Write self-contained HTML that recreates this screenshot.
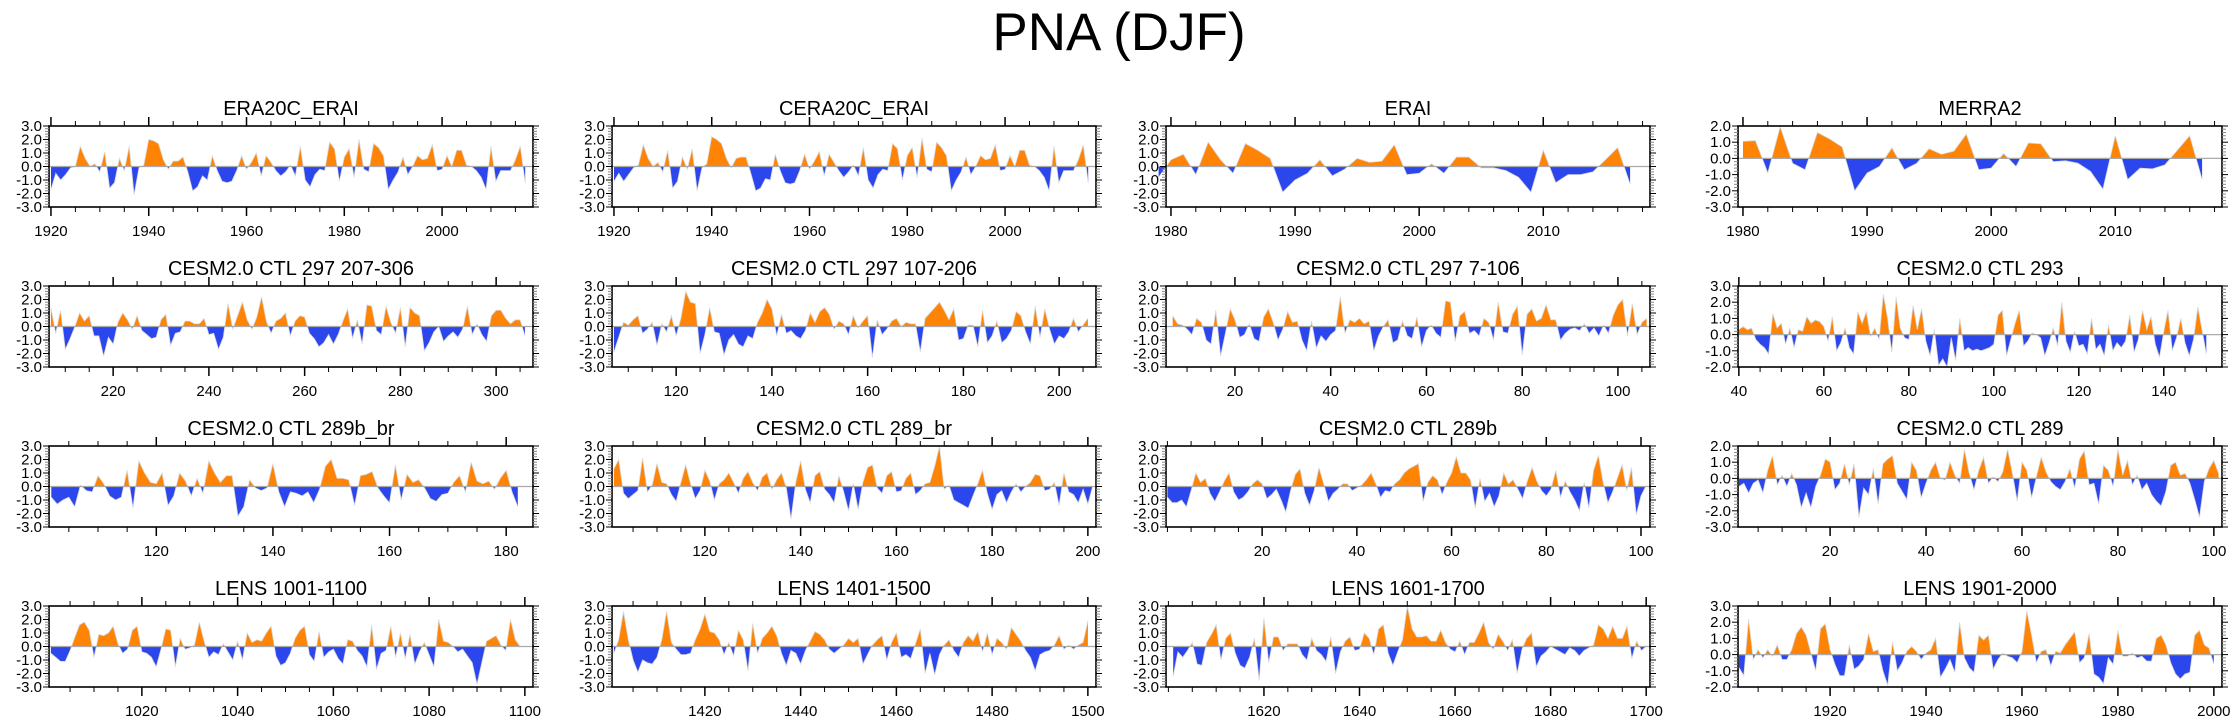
<!DOCTYPE html>
<html><head><meta charset="utf-8">
<style>
html,body{margin:0;padding:0;background:#fff;}
svg{display:block;font-family:"Liberation Sans",sans-serif;}
</style></head>
<body>
<svg id="chart" width="2238" height="718" viewBox="0 0 2238 718" xmlns="http://www.w3.org/2000/svg">
<rect x="0" y="0" width="2238" height="718" fill="#fff"/>
<text x="1119" y="50" text-anchor="middle" font-size="53" fill="#000">PNA (DJF)</text>
</svg>
<script>
const titles = ["ERA20C_ERAI","CERA20C_ERAI","ERAI","MERRA2","CESM2.0 CTL 297 207-306","CESM2.0 CTL 297 107-206","CESM2.0 CTL 297 7-106","CESM2.0 CTL 293","CESM2.0 CTL 289b_br","CESM2.0 CTL 289_br","CESM2.0 CTL 289b","CESM2.0 CTL 289","LENS 1001-1100","LENS 1401-1500","LENS 1601-1700","LENS 1901-2000"];
const firstYears = [1920,1920,1979,1980,207,107,7,40,102,101,0,1,1001,1401,1601,1901];
const xMins = [1919.6,1919.6,1979.6,1979.6,206.6,106.6,5.6,39.8,101.6,100.6,-0.3,0.8,1000.6,1400.6,1599.5,1900.8];
const xMaxs = [2018.6,2018.6,2018.6,2018.6,307.7,207.7,106.7,153.7,184.6,201.7,101.9,101.7,1101.7,1501.7,1700.8,2001.7];
const yMins = [-3,-3,-3,-3,-3,-3,-3,-2,-3,-3,-3,-3,-3,-3,-3,-2];
const yMaxs = [3,3,3,2,3,3,3,3,3,3,3,2,3,3,3,3];
const majorTicks = [[1920,1940,1960,1980,2000],[1920,1940,1960,1980,2000],[1980,1990,2000,2010],[1980,1990,2000,2010],[220,240,260,280,300],[120,140,160,180,200],[20,40,60,80,100],[40,60,80,100,120,140],[120,140,160,180],[120,140,160,180,200],[20,40,60,80,100],[20,40,60,80,100],[1020,1040,1060,1080,1100],[1420,1440,1460,1480,1500],[1620,1640,1660,1680,1700],[1920,1940,1960,1980,2000]];
const minorSteps = [5,5,2,2,5,5,5,5,5,5,5,5,5,5,5,5];

const sERA20C = [-1.7,-0.5,-1.0,-0.6,-0.1,0.0,1.5,0.6,0.0,0.2,-0.4,1.1,-1.6,-1.2,0.6,-0.3,1.5,-2.1,-0.1,0.1,2.0,1.9,1.7,0.5,-0.2,0.4,0.4,0.7,-0.4,-1.8,-1.5,-0.7,-1.0,0.8,-0.3,-1.1,-1.2,-1.1,-0.3,0.8,-0.2,0.3,1.0,-0.7,0.8,0.3,-0.3,-0.7,-0.4,0.1,-0.7,1.5,-1.0,-1.5,-0.6,-0.2,-0.3,1.8,1.3,-1.1,0.7,1.3,-0.8,2.0,-0.2,-0.4,1.7,1.4,0.8,-1.7,-1.0,-0.4,0.7,-0.6,0.0,0.8,0.5,0.6,1.6,-0.3,-0.2,0.8,0.0,1.2,1.2,0.1,0.0,-0.3,-0.8,-1.7,1.5,-1.1,-0.3,-0.3,-0.3,0.5,1.5,-1.2];
const sCERA20C = [-1.1,-0.5,-1.1,-0.6,-0.1,0.1,1.6,0.6,0.0,0.3,-0.4,1.2,-1.6,-1.1,0.7,-0.2,1.3,-1.8,-0.1,0.2,2.2,2.0,1.7,0.6,-0.1,0.6,0.7,0.7,-0.5,-1.8,-1.6,-0.9,-1.0,0.9,-0.3,-1.2,-1.3,-1.2,-0.3,0.9,-0.2,0.4,1.1,-0.7,0.9,0.3,-0.3,-0.8,-0.4,0.1,-0.7,1.4,-1.0,-1.6,-0.6,-0.2,-0.3,1.7,1.3,-1.0,0.8,1.4,-0.8,2.1,-0.2,-0.4,1.8,1.4,0.8,-1.8,-1.0,-0.4,0.7,-0.6,0.0,0.8,0.5,0.6,1.6,-0.3,-0.2,0.8,0.0,1.2,1.2,0.1,0.0,-0.3,-0.8,-1.8,1.5,-1.2,-0.3,-0.3,-0.3,0.5,1.6,-1.2];
const sERAI = [-0.8,0.5,0.9,-0.6,1.8,0.5,-0.5,1.7,1.2,0.6,-1.9,-1.0,-0.5,0.5,-0.7,-0.2,0.6,0.3,0.4,1.6,-0.6,-0.5,0.2,-0.5,0.7,0.7,-0.1,-0.1,-0.3,-0.8,-1.9,1.2,-1.2,-0.6,-0.6,-0.4,0.5,1.4,-1.3];
const sMERRA2 = [1.05,1.1,-0.9,1.95,-0.3,-0.7,1.6,1.2,0.7,-2.0,-0.9,-0.5,0.65,-0.7,-0.3,0.6,0.25,0.45,1.5,-0.7,-0.6,0.3,-0.5,0.95,0.9,-0.2,-0.15,-0.3,-0.8,-1.9,1.4,-1.3,-0.6,-0.65,-0.4,0.5,1.4,-1.3];
const sCTL297a = [1.4,-0.5,1.2,-1.7,-0.9,0.0,1.0,0.4,0.8,-0.7,-0.7,-2.2,-0.8,-1.3,0.3,1.0,0.5,-0.2,0.8,-0.3,-0.6,-0.9,-0.8,0.5,0.9,-1.4,-0.5,-0.4,0.4,0.4,0.2,0.2,0.6,-0.6,-0.5,-1.7,-0.8,1.7,-0.2,0.8,1.8,0.5,-0.2,0.7,2.2,0.4,-0.5,0.4,0.6,1.0,-0.7,0.4,0.8,0.7,-0.5,-0.9,-1.5,-1.2,-0.6,-1.3,-0.6,0.4,1.3,-0.9,0.5,-1.3,1.6,1.5,-0.3,-0.6,1.5,0.3,-0.5,1.4,-1.5,1.4,1.0,0.8,-1.8,-1.2,-0.4,0.0,-1.1,-0.7,-0.4,-0.8,-0.2,1.5,-0.6,0.2,-0.6,-1.1,0.8,1.2,1.2,0.6,0.2,0.5,0.5,-0.7];
const sCTL297b = [-1.9,-0.8,0.3,0.1,0.5,0.8,-0.5,-0.2,0.3,-1.4,0.2,-0.4,0.8,-0.7,0.6,2.6,1.8,1.7,-2.0,-0.6,1.4,-0.4,-0.5,-2.1,-1.0,-0.6,-1.3,-1.5,-0.7,-0.9,0.3,1.0,2.0,1.3,-0.7,0.9,-0.5,-0.3,-0.7,-0.9,-0.3,1.0,0.3,1.1,1.4,0.9,-0.2,0.4,0.2,-0.6,0.8,-0.1,0.4,0.8,-2.3,0.5,-0.6,-0.2,0.4,0.6,0.0,0.3,0.2,0.2,-1.9,0.6,1.0,1.4,1.8,1.2,0.5,1.3,-1.0,-0.9,0.1,0.1,-1.5,1.2,-1.2,-0.7,0.4,-1.2,-0.9,-0.3,1.1,0.8,-0.4,-1.3,1.5,-0.8,1.3,-0.2,-1.3,-0.7,-0.9,-0.4,0.6,-0.4,0.1,0.6];
const sCTL297c = [0.8,0.2,0.1,-0.2,-0.6,0.6,0.3,-1.0,-1.3,1.2,-2.2,-0.5,1.3,0.5,-0.8,-0.6,0.2,-0.9,-1.1,0.7,1.3,0.3,-1.0,-0.2,1.1,0.3,0.4,-1.0,-1.8,0.4,-1.6,-0.7,-1.1,-0.6,-0.3,2.2,-0.5,0.5,0.3,0.6,0.2,0.4,-1.8,-0.7,0.0,0.5,-1.2,-1.0,0.4,-0.7,-0.9,0.7,-1.5,-0.3,0.1,-0.5,-0.8,1.9,1.8,-1.1,0.8,1.1,-0.5,-0.3,-0.7,0.6,0.3,-1.0,1.8,-0.4,-0.5,0.9,1.5,-2.1,0.9,1.3,0.4,0.6,1.6,0.5,0.5,-1.0,-0.5,-0.2,-0.1,-0.3,0.2,-0.5,-0.1,-0.7,0.1,-0.5,0.8,1.6,2.0,-0.7,1.7,-0.6,0.3,0.6];
const sCTL293 = [0.3,0.5,0.3,0.4,-0.3,-0.6,-0.8,-1.2,1.3,0.4,0.7,-0.6,0.4,-0.8,0.3,0.2,1.1,0.7,0.9,0.8,0.5,-0.4,1.1,-1.0,-0.5,0.4,-0.8,-1.2,1.4,0.7,1.4,-0.1,0.4,-0.3,2.5,1.0,-1.1,2.3,0.4,-0.2,-0.3,1.8,0.3,1.6,-0.4,-1.3,0.3,-1.9,-1.5,-2.0,-0.2,-1.6,1.0,-1.0,-0.8,-1.0,-0.9,-1.0,-0.9,-0.8,-0.6,1.2,1.5,-1.3,-0.3,0.7,1.5,-0.7,-0.4,0.1,0.0,-0.2,-1.3,-0.5,0.4,-0.7,2.0,-0.4,-1.1,0.2,-0.7,-0.6,-1.2,1.0,-0.9,-0.6,-1.3,0.6,-1.0,-0.5,-0.8,-0.4,1.2,-1.1,-0.3,1.5,0.3,1.1,-0.6,-1.4,0.2,1.5,-1.0,-0.2,1.0,-0.5,-1.3,-0.3,1.7,0.3,-1.2];
const sCTL289bbr = [-0.8,-1.3,-1.0,-0.8,-1.5,0.1,-0.3,-0.4,0.8,0.2,-0.7,-1.0,-0.8,1.2,-1.6,1.9,1.0,0.3,0.2,1.0,-1.4,-0.7,1.0,0.4,-0.7,0.6,-0.5,1.9,1.0,0.3,0.8,0.8,-2.2,-1.5,0.5,-0.1,-0.3,-0.1,1.7,-0.4,-1.5,-0.4,-0.5,-0.7,-0.4,-1.2,-0.2,1.5,2.0,0.6,0.6,0.5,-1.4,0.8,0.9,1.1,-0.1,-0.7,-1.2,1.6,-1.0,0.9,0.3,0.5,-0.1,-0.9,-1.1,-0.6,-0.5,0.3,0.8,-0.4,1.8,0.4,0.2,0.4,-0.2,0.6,1.2,-0.4,-1.5];
const sCTL289br = [1.3,2.0,-0.5,-0.9,-0.6,-0.3,2.1,-0.4,0.1,1.7,0.3,0.2,-0.6,-1.1,0.3,1.6,0.2,-0.9,-0.3,1.2,0.4,-1.0,0.2,0.5,1.0,0.3,-0.5,0.6,1.1,0.3,-0.3,0.7,1.0,-0.2,0.5,1.0,-0.1,-2.4,0.3,1.9,-0.2,-1.2,0.8,1.1,-0.2,-0.6,-1.2,0.8,-0.4,-1.8,0.2,-1.7,0.3,1.4,1.6,-0.1,-0.5,0.8,1.1,-0.4,-0.3,0.6,1.0,-0.6,-0.3,0.2,0.3,1.5,3.0,-0.2,0.1,-1.0,-1.2,-1.4,-1.6,-0.7,0.2,1.2,-0.5,-1.7,-0.6,-0.3,-1.2,-0.4,0.2,-0.4,0.0,0.3,0.9,0.8,-0.3,-0.2,0.3,-1.4,1.0,-0.4,-0.6,-1.2,-0.2,-1.3,0.0];
const sCTL289b = [-0.8,-1.2,-1.2,-1.0,-1.5,-0.3,1.0,0.3,0.6,-0.5,-1.1,-0.4,0.4,1.0,-0.4,-1.0,-0.8,-0.4,0.2,0.5,0.2,-0.9,-0.6,-0.2,-1.0,-1.9,-0.3,0.9,1.3,-0.5,-1.4,-0.3,1.4,0.2,-1.1,-0.5,-0.2,0.2,0.2,-0.3,-0.1,0.1,0.5,1.0,0.2,-0.8,-0.3,-0.4,0.2,0.5,1.0,1.3,1.5,1.7,-1.1,0.3,0.8,0.5,-0.6,0.3,1.0,2.2,1.0,1.0,0.5,-1.6,0.6,-1.1,-0.5,-1.5,-0.7,1.0,0.2,0.5,-0.2,-0.9,0.4,1.4,0.4,-0.3,-0.7,-0.2,1.2,-0.8,0.4,-0.4,-1.0,-1.8,0.3,-1.6,1.2,2.3,0.3,-1.2,-0.4,0.6,1.6,-0.3,1.4,-2.1,-0.7,0.0];
const sCTL289 = [-0.5,-0.3,-0.9,-0.3,-0.1,-0.9,0.5,1.4,-0.4,0.2,-0.5,0.3,-0.4,-1.8,-0.9,-1.8,-0.5,0.2,1.2,1.0,-0.7,-0.3,0.9,-0.4,0.9,-2.4,-0.6,-1.0,0.6,-1.6,0.9,1.2,1.4,-0.3,-0.8,-1.3,1.0,0.5,-1.2,-0.3,0.5,1.0,0.0,-0.1,1.0,0.2,-0.3,1.8,0.3,-0.7,0.5,1.3,-0.3,0.1,-0.2,0.4,1.8,0.3,-1.4,1.0,0.5,-1.2,0.1,1.3,0.4,-0.2,-0.5,-0.7,-0.2,0.6,-0.6,1.2,1.7,-0.4,-0.3,-1.6,0.8,0.5,-0.5,1.8,0.2,1.1,-0.4,0.2,-0.7,-0.3,-1.0,-1.4,-1.7,-0.8,0.8,1.0,0.2,0.3,-0.3,-1.3,-2.4,-0.2,0.6,1.1,0.3];
const sLENS1001 = [-0.5,-0.8,-1.1,-1.1,-0.3,0.7,1.6,1.8,1.2,-0.8,0.9,0.8,1.0,1.5,0.2,-0.5,-0.2,1.2,1.5,-0.4,-0.5,-0.8,-1.5,-0.2,1.3,1.2,-1.5,0.6,-0.2,-0.1,0.1,1.8,0.4,-0.8,-0.4,-0.6,0.2,-0.4,-1.0,0.4,-1.0,1.0,0.3,0.5,0.4,1.0,1.5,-0.7,-1.4,-1.2,-0.5,0.6,1.2,1.5,-0.6,-1.1,1.1,-0.8,-0.4,-0.2,-0.9,-1.3,0.5,0.4,-0.3,-0.7,-1.5,1.6,-1.7,-0.5,-0.3,1.5,-0.8,1.0,-0.9,0.9,-1.3,-0.4,0.3,-0.6,-1.5,2.0,0.4,0.3,0.0,-0.4,-0.2,-0.7,-1.2,-2.8,-1.2,0.4,0.6,0.8,0.1,-0.3,2.0,0.5,0.0,0.0];
const sLENS1401 = [-0.5,0.5,2.6,0.5,-1.0,-1.9,-1.0,-1.2,-1.3,-0.8,0.5,2.6,0.3,-0.2,-0.6,-0.6,-0.5,0.5,1.3,2.4,1.1,1.0,0.5,-0.6,0.3,-0.7,1.2,0.5,-1.8,1.7,-0.5,0.6,1.0,1.5,0.8,-0.5,-1.4,-0.3,-0.5,-1.3,-0.3,0.4,1.1,0.9,0.5,-0.2,-0.5,-0.2,0.1,0.6,0.3,0.6,-1.3,-0.6,0.1,0.5,0.8,-1.0,0.3,1.0,-0.8,-0.6,-0.9,0.2,1.3,-2.0,-0.5,-2.1,-0.6,0.1,0.5,-0.3,-0.8,0.3,0.8,0.4,1.1,-0.4,1.0,-0.6,0.6,0.3,-0.2,1.4,0.9,0.4,-0.3,-0.8,-1.8,-0.6,-0.4,-0.3,0.1,0.8,-0.2,0.1,-0.2,0.1,0.3,1.9];
const sLENS1601 = [-2.2,-0.4,-0.8,-0.3,0.3,-1.3,-1.4,0.3,0.9,1.6,-1.0,0.6,1.0,-0.5,-1.4,-1.6,-0.8,0.6,-2.5,2.1,-1.2,0.7,0.7,-0.3,0.2,0.2,0.2,-0.6,-1.0,0.6,-0.3,-0.6,-1.1,0.7,-2.0,-0.4,0.4,0.7,-0.3,-0.2,1.0,0.6,-0.6,1.3,1.6,-0.5,-1.4,-0.4,0.5,3.0,1.3,0.7,0.7,0.8,0.4,0.4,1.2,0.3,-0.2,-0.4,0.4,-0.6,0.3,0.3,1.0,1.8,0.3,-0.2,0.9,0.4,-0.3,0.5,-2.0,-0.2,0.6,1.0,-1.5,-0.7,-0.4,0.0,-0.2,-0.4,-0.6,-0.1,-0.3,-0.7,-0.3,-0.1,0.1,1.6,1.3,0.6,1.5,0.6,0.6,1.5,-0.9,0.4,-0.3,0.0];
const sLENS1901 = [-0.8,-1.3,2.2,-0.3,0.3,-0.2,0.3,-0.1,0.6,-0.3,-0.3,0.3,1.3,1.7,1.2,0.1,-1.0,1.6,1.9,0.3,-0.6,-1.3,-1.3,0.6,-0.9,-0.7,-0.3,1.3,0.2,0.3,-1.0,-1.9,0.8,-1.0,-0.5,0.2,0.5,0.2,-0.3,0.1,0.3,1.0,-1.4,-0.9,-0.3,-1.1,2.0,-0.2,-0.8,-1.1,1.2,0.9,1.2,-0.9,-0.3,0.1,-0.1,-0.2,-0.5,0.2,2.7,1.2,-0.5,0.2,0.3,-0.7,0.2,0.1,0.6,1.0,1.4,-0.5,-0.2,1.3,-1.2,-1.4,-1.8,-0.2,-0.6,1.5,-0.1,-0.1,0.1,-0.2,-0.1,-0.4,-0.4,1.0,1.2,0.6,-0.5,-1.2,-1.5,-1.2,-1.1,1.2,1.5,0.6,0.4,-0.6];

const series = [sERA20C,sCERA20C,sERAI,sMERRA2,sCTL297a,sCTL297b,sCTL297c,sCTL293,sCTL289bbr,sCTL289br,sCTL289b,sCTL289,sLENS1001,sLENS1401,sLENS1601,sLENS1901];

const NS = "http://www.w3.org/2000/svg";
const svg = document.getElementById("chart");
const colLefts = [49,612,1166,1738];
const rowTops = [126,286,446,606];
const PW = 484, PH = 81;
function mk(tag, attrs, parent){
  const e = document.createElementNS(NS, tag);
  for (const k in attrs) e.setAttribute(k, attrs[k]);
  parent.appendChild(e);
  return e;
}
function fmt(v){ return v.toFixed(1); }

for (let p = 0; p < 16; p++){
  const L = colLefts[p % 4], T = rowTops[Math.floor(p / 4)];
  const R = L + PW, B = T + PH;
  const x0 = xMins[p], x1 = xMaxs[p], y0 = yMins[p], y1 = yMaxs[p];
  const sx = v => L + (v - x0) / (x1 - x0) * PW;
  const sy = v => B - (v - y0) / (y1 - y0) * PH;
  const g = mk("g", {}, svg);
  
  

  const t = mk("text", {x: (L + R) / 2, y: T - 11, "text-anchor": "middle", "font-size": 20, fill: "#000"}, g);
  
  
  t.textContent = titles[p];

  const d = series[p], fy = firstYears[p];
  const zy = sy(0);
  let pos = [], neg = [];
  pos.push([sx(fy), zy]); neg.push([sx(fy), zy]);
  for (let i = 0; i < d.length; i++){
    const xv = sx(fy + i), v = d[i];
    if (i > 0){
      const pv = d[i - 1];
      if ((pv > 0 && v < 0) || (pv < 0 && v > 0)){
        const f = pv / (pv - v);
        const xc = sx(fy + i - 1 + f);
        pos.push([xc, zy]); neg.push([xc, zy]);
      }
    }
    pos.push([xv, v > 0 ? sy(v) : zy]);
    neg.push([xv, v < 0 ? sy(v) : zy]);
  }
  pos.push([sx(fy + d.length - 1), zy]); neg.push([sx(fy + d.length - 1), zy]);
  const toPts = a => a.map(q => q[0].toFixed(1) + "," + q[1].toFixed(1)).join(" ");
  const pp = mk("polygon", {points: toPts(pos), fill: "#ff8305"}, g);
  
  
  const np = mk("polygon", {points: toPts(neg), fill: "#2c46ee"}, g);
  
  
  const line = mk("polyline", {points: d.map((v, i) => sx(fy + i).toFixed(1) + "," + sy(v).toFixed(1)).join(" "), fill: "none", stroke: "#d8d8d8", "stroke-width": 0.8}, g);
  
  
  const zl = mk("line", {x1: L, x2: R, y1: zy, y2: zy, stroke: "#aaa", "stroke-width": 1.2}, g);
  
  

  const box = mk("rect", {x: L, y: T, width: PW, height: PH, fill: "none", stroke: "#000", "stroke-width": 1.6}, g);
  
  

  const step = minorSteps[p];
  for (let v = Math.ceil(x0 / step) * step; v <= x1; v += step){
    const isMaj = majorTicks[p].includes(v);
    const X = sx(v), len = isMaj ? 9 : 5;
    mk("line", {x1: X, x2: X, y1: B, y2: B + len, stroke: "#000", "stroke-width": isMaj ? 1.5 : 1}, g);
    mk("line", {x1: X, x2: X, y1: T, y2: T - len, stroke: "#000", "stroke-width": isMaj ? 1.5 : 1}, g);
  }
  majorTicks[p].forEach(v => {
    const lt = mk("text", {x: sx(v), y: B + 29, "text-anchor": "middle", "font-size": 15, fill: "#000"}, g);
    
    
    lt.textContent = v;
  });
  for (let k = Math.round(y0 * 5); k <= Math.round(y1 * 5); k++){
    const v = k / 5, Y = sy(v), maj = (k % 5 === 0), len = maj ? 6 : 4;
    mk("line", {x1: L, x2: L - len, y1: Y, y2: Y, stroke: maj ? "#000" : "#888", "stroke-width": 1}, g);
    mk("line", {x1: R, x2: R + len, y1: Y, y2: Y, stroke: maj ? "#000" : "#888", "stroke-width": 1}, g);
    if (maj){
      const yt = mk("text", {x: L - 7, y: Y + 5, "text-anchor": "end", "font-size": 15, fill: "#000"}, g);
      
      
      yt.textContent = fmt(v);
    }
  }
}
</script>
</body></html>
